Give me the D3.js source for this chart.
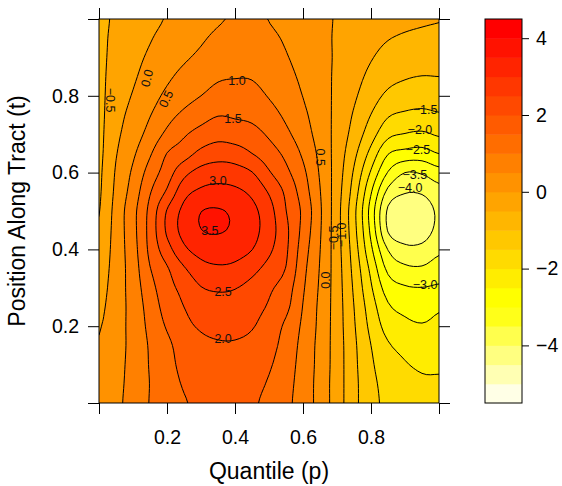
<!DOCTYPE html>
<html>
<head>
<meta charset="utf-8">
<script src="https://cdn.jsdelivr.net/npm/d3@7"></script>
<style>
body { margin: 0; background: #fff; }
text { font-family: "Liberation Sans", Arial, Helvetica, sans-serif; }
</style>
</head>
<body>
<svg id="chart" width="562" height="486"></svg>
<script>
//////// Grid of the surface (rows go up in t)
var pGrid = [0, 0.05, 0.1, 0.15, 0.2, 0.25, 0.3, 0.35, 0.4, 0.45, 0.5, 0.55, 0.6, 0.65, 0.7, 0.75, 0.8, 0.85, 0.9, 0.95, 1];
var tGrid = [0, 0.05, 0.1, 0.15, 0.2, 0.25, 0.3, 0.35, 0.4, 0.45, 0.5, 0.55, 0.6, 0.65, 0.7, 0.75, 0.8, 0.85, 0.9, 0.95, 1];

var zT000 = [0.15, 0.38, 0.70, 1.02, 1.24, 1.46, 1.62, 1.75, 1.75, 1.58, 1.36, 1.11, 0.78, 0.31, -0.25, -0.86, -1.34, -1.62, -1.78, -1.88, -1.92];
var zT005 = [0.10, 0.35, 0.68, 1.01, 1.26, 1.55, 1.71, 1.80, 1.79, 1.66, 1.45, 1.16, 0.79, 0.31, -0.25, -0.86, -1.36, -1.68, -1.84, -1.94, -1.96];
var zT010 = [0.07, 0.32, 0.67, 1.03, 1.31, 1.66, 1.81, 1.87, 1.86, 1.76, 1.56, 1.22, 0.82, 0.33, -0.24, -0.88, -1.42, -1.80, -1.97, -2.06, -2.05];
var zT015 = [0.03, 0.29, 0.66, 1.05, 1.38, 1.74, 1.90, 1.96, 1.96, 1.88, 1.68, 1.30, 0.85, 0.34, -0.24, -0.90, -1.50, -1.95, -2.12, -2.21, -2.17];
var zT020 = [-0.03, 0.27, 0.68, 1.12, 1.55, 1.88, 2.05, 2.12, 2.12, 2.03, 1.80, 1.40, 0.91, 0.37, -0.25, -0.95, -1.63, -2.19, -2.38, -2.46, -2.37];
var zT025 = [-0.10, 0.25, 0.69, 1.20, 1.70, 2.00, 2.22, 2.33, 2.31, 2.15, 1.95, 1.62, 0.98, 0.39, -0.25, -1.00, -1.76, -2.43, -2.63, -2.71, -2.57];
var zT030 = [-0.18, 0.24, 0.72, 1.32, 1.82, 2.15, 2.48, 2.56, 2.52, 2.34, 2.08, 1.76, 1.06, 0.43, -0.26, -1.07, -1.94, -2.74, -2.95, -2.99, -2.93];
var zT035 = [-0.26, 0.22, 0.75, 1.48, 1.95, 2.45, 2.82, 2.93, 2.88, 2.65, 2.33, 1.98, 1.15, 0.47, -0.27, -1.15, -2.13, -3.12, -3.40, -3.44, -3.27];
var zT040 = [-0.35, 0.21, 0.80, 1.62, 2.30, 2.90, 3.19, 3.26, 3.20, 3.01, 2.60, 2.08, 1.25, 0.51, -0.29, -1.24, -2.40, -3.52, -3.87, -3.86, -3.60];
var zT045 = [-0.43, 0.20, 0.84, 1.67, 2.58, 3.17, 3.49, 3.54, 3.42, 3.17, 2.74, 2.11, 1.35, 0.55, -0.30, -1.33, -2.62, -4.04, -4.31, -4.25, -3.87];
var zT050 = [-0.52, 0.18, 0.84, 1.64, 2.53, 3.13, 3.49, 3.54, 3.40, 3.14, 2.69, 2.01, 1.40, 0.57, -0.30, -1.36, -2.70, -4.08, -4.35, -4.29, -3.91];
var zT055 = [-0.56, 0.11, 0.71, 1.46, 2.07, 2.82, 3.09, 3.16, 3.10, 2.89, 2.45, 1.90, 1.26, 0.52, -0.27, -1.22, -2.45, -3.63, -3.96, -3.94, -3.68];
var zT060 = [-0.58, 0.05, 0.58, 1.21, 1.75, 2.35, 2.68, 2.77, 2.71, 2.52, 2.05, 1.62, 1.11, 0.45, -0.23, -1.06, -2.06, -3.03, -3.50, -3.45, -3.20];
var zT065 = [-0.60, -0.03, 0.42, 0.94, 1.51, 1.78, 2.13, 2.28, 2.23, 2.00, 1.72, 1.38, 0.92, 0.38, -0.20, -0.87, -1.66, -2.47, -2.66, -2.71, -2.49];
var zT070 = [-0.61, -0.11, 0.26, 0.67, 1.11, 1.44, 1.68, 1.83, 1.76, 1.67, 1.43, 1.11, 0.73, 0.30, -0.16, -0.68, -1.28, -1.87, -2.02, -2.08, -1.94];
var zT075 = [-0.62, -0.17, 0.14, 0.48, 0.83, 1.10, 1.31, 1.48, 1.44, 1.38, 1.18, 0.91, 0.60, 0.25, -0.13, -0.55, -1.01, -1.45, -1.58, -1.63, -1.55];
var zT080 = [-0.62, -0.23, 0.03, 0.31, 0.60, 0.82, 1.00, 1.17, 1.18, 1.15, 0.97, 0.75, 0.49, 0.20, -0.10, -0.43, -0.78, -1.10, -1.22, -1.27, -1.23];
var zT085 = [-0.62, -0.28, -0.06, 0.18, 0.42, 0.62, 0.78, 0.94, 0.98, 0.97, 0.82, 0.63, 0.41, 0.17, -0.08, -0.34, -0.61, -0.85, -0.96, -1.01, -1.00];
var zT090 = [-0.62, -0.33, -0.13, 0.07, 0.28, 0.44, 0.59, 0.76, 0.82, 0.83, 0.69, 0.53, 0.34, 0.15, -0.06, -0.27, -0.47, -0.65, -0.74, -0.79, -0.80];
var zT095 = [-0.62, -0.37, -0.20, -0.03, 0.15, 0.30, 0.44, 0.60, 0.68, 0.71, 0.59, 0.45, 0.28, 0.12, -0.05, -0.20, -0.35, -0.48, -0.56, -0.61, -0.63];
var zT100 = [-0.62, -0.42, -0.27, -0.12, 0.03, 0.16, 0.29, 0.45, 0.55, 0.60, 0.49, 0.37, 0.23, 0.10, -0.03, -0.14, -0.24, -0.32, -0.39, -0.44, -0.48];

var zRows = [zT000, zT005, zT010, zT015, zT020, zT025, zT030, zT035, zT040, zT045, zT050,
	zT055, zT060, zT065, zT070, zT075, zT080, zT085, zT090, zT095, zT100];

var levels = [-4, -3.5, -3, -2.5, -2, -1.5, -1, -0.5, 0, 0.5, 1, 1.5, 2, 2.5, 3, 3.5];
var keyBreaks = [-5.5, -5, -4.5, -4, -3.5, -3, -2.5, -2, -1.5, -1, -0.5, 0, 0.5, 1, 1.5, 2, 2.5, 3, 3.5, 4, 4.5];
var keyTicks = [-4, -2, 0, 2, 4];
var axisTicks = [0, 0.2, 0.4, 0.6, 0.8, 1];

//////// Contour labels as lattice placed them
var labelText = ["\u22120.5", "0.0", "0.5", "1.0", "1.5", "3.0", "3.5", "2.5", "2.0", "0.5", "\u22120.5", "\u22121.0", "0.0",
	"\u22121.5", "\u22122.0", "\u22122.5", "\u22123.5", "\u22124.0", "\u22123.0"];
var labelP = [0.032, 0.141, 0.197, 0.406, 0.394, 0.35, 0.326, 0.365, 0.365, 0.65, 0.69, 0.714, 0.667,
	0.959, 0.944, 0.938, 0.929, 0.915, 0.959];
var labelT = [0.789, 0.846, 0.792, 0.839, 0.74, 0.578, 0.448, 0.289, 0.167, 0.64, 0.43, 0.438, 0.32,
	0.763, 0.711, 0.661, 0.594, 0.56, 0.307];
var labelRot = [90, -75, -65, 0, 0, 0, 0, 0, 0, 90, -90, -90, -90, 0, 0, 0, 0, 0, 0];

//////// Layout

var svg = d3.select("#chart");

var x = d3.scaleLinear().domain([0, 1]).range([99, 439]);
var y = d3.scaleLinear().domain([0, 1]).range([403, 19]);

var keyScale = d3.scaleLinear().domain([-5.5, 4.5]).range([403, 19]);

// rev(heat.colors(20)), one colour for each band starting at a break
function bandColor(lower) {
	var j = Math.round((lower + 5.5) / 0.5);
	if (j < 5) {
		var s = [0.1, 0.3, 0.5, 0.7, 0.9][j];
		return d3.rgb(255, 255, Math.round(255 * (1 - s))) + "";
	}
	var k = 19 - j;
	return d3.rgb(255, Math.round(255 * k / 14), 0) + "";
}

//////// Smooth drawing of the grid (bicubic resampling, only for the contour tracer)

var SUB = 4;

function cubic(p0, p1, p2, p3, s) {
	return 0.5 * (2 * p1 + (-p0 + p2) * s + (2 * p0 - 5 * p1 + 4 * p2 - p3) * s * s + (-p0 + 3 * p1 - 3 * p2 + p3) * s * s * s);
}

function sample1d(arr, u) {
	var n = arr.length;
	var i = Math.min(Math.floor(u), n - 2);
	var s = u - i;
	function at(k) { return arr[Math.max(0, Math.min(n - 1, k))]; }
	return cubic(at(i - 1), at(i), at(i + 1), at(i + 2), s);
}

var nx = (pGrid.length - 1) * SUB + 1;
var ny = (tGrid.length - 1) * SUB + 1;

// resample each row along p first
var rowsFine = zRows.map(function(row) {
	return d3.range(nx).map(function(i) { return sample1d(row, i / SUB); });
});

var values = [];
for (var j = 0; j < ny; j++) {
	for (var i = 0; i < nx; i++) {
		var col = rowsFine.map(function(r) { return r[i]; });
		values.push(sample1d(col, j / SUB));
	}
}

var contours = d3.contours()
	.size([nx, ny])
	.thresholds(levels)(values);

// contour grid coordinates -> screen
var gx = d3.scaleLinear().domain([0.5, nx - 0.5]).range([x(pGrid[0]), x(pGrid[pGrid.length - 1])]);
var gy = d3.scaleLinear().domain([0.5, ny - 0.5]).range([y(tGrid[0]), y(tGrid[tGrid.length - 1])]);

var ringLine = d3.line()
	.x(function(d) { return gx(d[0]); })
	.y(function(d) { return gy(d[1]); })
	.curve(d3.curveLinearClosed);

function multiPath(mp) {
	return mp.coordinates.map(function(poly) {
		return poly.map(function(ring) { return ringLine(ring.slice(0, -1)); }).join("");
	}).join("");
}

svg.append("clipPath").attr("id", "panelClip")
	.append("rect")
	.attr("x", x(0)).attr("y", y(1))
	.attr("width", x(1) - x(0)).attr("height", y(0) - y(1));

var panel = svg.append("g").attr("clip-path", "url(#panelClip)");

panel.append("rect")
	.attr("x", x(0)).attr("y", y(1))
	.attr("width", x(1) - x(0)).attr("height", y(0) - y(1))
	.attr("fill", bandColor(levels[0] - 0.5));

panel.selectAll(".band")
	.data(contours)
	.enter().append("path")
	.attr("class", "band")
	.attr("d", multiPath)
	.attr("fill-rule", "evenodd")
	.attr("fill", function(d) { return bandColor(d.value); });

panel.selectAll(".cline")
	.data(contours)
	.enter().append("path")
	.attr("class", "cline")
	.attr("d", multiPath)
	.attr("fill", "none")
	.attr("stroke", "#000")
	.attr("stroke-width", 1);

panel.selectAll(".clabel")
	.data(labelText)
	.enter().append("text")
	.attr("class", "clabel")
	.attr("transform", function(d, i) {
		return "translate(" + x(labelP[i]) + "," + y(labelT[i]) + ") rotate(" + labelRot[i] + ")";
	})
	.attr("text-anchor", "middle")
	.attr("dy", "0.35em")
	.attr("font-size", 12.5)
	.attr("fill", "#111")
	.text(function(d) { return d; });

svg.append("rect")
	.attr("x", x(0)).attr("y", y(1))
	.attr("width", x(1) - x(0)).attr("height", y(0) - y(1))
	.attr("fill", "none")
	.attr("stroke", "#000");

//////// Axes

function tickLabel(d) {
	return (d > 0 && d < 1) ? d3.format(".1f")(d) : "";
}

var axB = svg.append("g").attr("transform", "translate(0," + y(0) + ")")
	.call(d3.axisBottom(x).tickValues(axisTicks).tickFormat(tickLabel).tickSize(11).tickSizeOuter(0).tickPadding(16));
var axT = svg.append("g").attr("transform", "translate(0," + y(1) + ")")
	.call(d3.axisTop(x).tickValues(axisTicks).tickFormat("").tickSize(11).tickSizeOuter(0));
var axL = svg.append("g").attr("transform", "translate(" + x(0) + ",0)")
	.call(d3.axisLeft(y).tickValues(axisTicks).tickFormat(tickLabel).tickSize(11).tickSizeOuter(0).tickPadding(9));
var axR = svg.append("g").attr("transform", "translate(" + x(1) + ",0)")
	.call(d3.axisRight(y).tickValues(axisTicks).tickFormat("").tickSize(11).tickSizeOuter(0));

[axB, axT, axL, axR].forEach(function(g) {
	g.select(".domain").remove();
	g.selectAll("line").attr("stroke", "#000");
	g.selectAll("text").attr("font-size", 19.5).attr("fill", "#000").attr("font-family", null);
});

svg.append("text")
	.attr("x", (x(0) + x(1)) / 2)
	.attr("y", 479)
	.attr("text-anchor", "middle")
	.attr("font-size", 23)
	.text("Quantile (p)");

svg.append("text")
	.attr("transform", "translate(25," + ((y(0) + y(1)) / 2) + ") rotate(-90)")
	.attr("text-anchor", "middle")
	.attr("font-size", 23)
	.text("Position Along Tract (t)");

//////// Colour key

var key = svg.append("g");

key.selectAll("rect")
	.data(keyBreaks.slice(0, -1))
	.enter().append("rect")
	.attr("x", 485)
	.attr("width", 37)
	.attr("y", function(d) { return keyScale(d + 0.5); })
	.attr("height", function(d) { return keyScale(d) - keyScale(d + 0.5) + 0.5; })
	.attr("fill", function(d) { return bandColor(d); });

key.append("rect")
	.attr("x", 485).attr("y", keyScale(4.5))
	.attr("width", 37).attr("height", keyScale(-5.5) - keyScale(4.5))
	.attr("fill", "none").attr("stroke", "#000");

var axK = key.append("g").attr("transform", "translate(522,0)")
	.call(d3.axisRight(keyScale).tickValues(keyTicks).tickSize(7).tickPadding(7));
axK.select(".domain").remove();
axK.selectAll("line").attr("stroke", "#000");
axK.selectAll("text").attr("font-size", 19.5).attr("fill", "#000").attr("font-family", null);
</script>
</body>
</html>
